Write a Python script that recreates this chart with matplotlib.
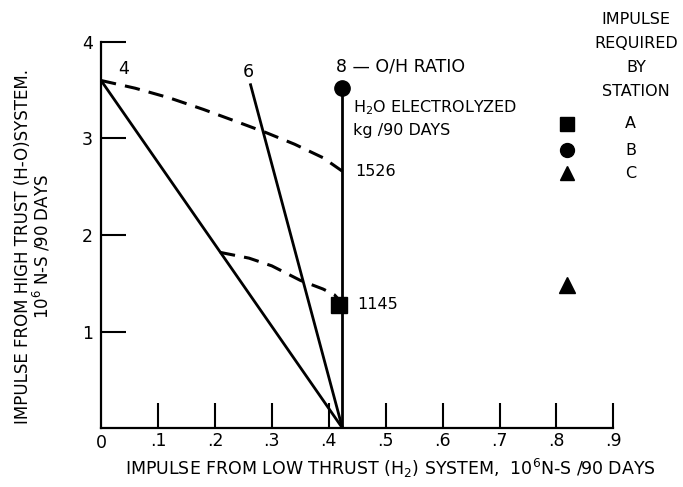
import matplotlib.pyplot as plt
import numpy as np

plt.rcParams['font.family'] = ['DejaVu Sans']
plt.rcParams['mathtext.fontset'] = 'dejavusans'

# O/H ratio lines: start point -> common end at x = 0.424
line_4 = ([0.0, 0.424], [3.6, 0.0])
line_6 = ([0.262, 0.424], [3.57, 0.0])
line_8 = ([0.424, 0.424], [0.0, 3.52])

# kg of H2O electrolyzed per 90 days (dashed curves)
curve_1526_x = [0.0, 0.06, 0.12, 0.18, 0.24, 0.29, 0.34, 0.39, 0.424]
curve_1526_y = [3.6, 3.52, 3.42, 3.30, 3.17, 3.06, 2.94, 2.80, 2.66]
curve_1145_x = [0.209, 0.26, 0.30, 0.35, 0.39, 0.41, 0.424]
curve_1145_y = [1.82, 1.76, 1.68, 1.53, 1.44, 1.38, 1.29]

# station requirements
stations = ['A', 'B', 'C']
station_x = [0.418, 0.424, 0.819]
station_y = [1.27, 3.52, 1.48]
station_marker = ['s', 'o', '^']

x_ticks = [0.1, 0.2, 0.3, 0.4, 0.5, 0.6, 0.7, 0.8, 0.9]
x_labels = ['.1', '.2', '.3', '.4', '.5', '.6', '.7', '.8', '.9']
y_ticks = [1, 2, 3, 4]

fig = plt.figure(figsize=(6.83, 4.87), dpi=100)
ax = fig.add_axes([0.148, 0.121, 0.75, 0.793])
ax.set_xlim(0, 0.9)
ax.set_ylim(0, 4)

for xs, ys in (line_4, line_6, line_8):
    ax.plot(xs, ys, color='black', lw=2.0, solid_capstyle='butt', clip_on=False)

ax.plot(curve_1526_x, curve_1526_y, color='black', lw=2.2, ls=(0, (5, 3)), clip_on=False)
ax.plot(curve_1145_x, curve_1145_y, color='black', lw=2.2, ls=(0, (5, 3)), clip_on=False)

for sx, sy, m in zip(station_x, station_y, station_marker):
    ax.plot(sx, sy, marker=m, color='black', ms=11, clip_on=False, zorder=5)

# legend at right
leg_y = [3.15, 2.88, 2.64]
for name, m, ly in zip(stations, station_marker, leg_y):
    ax.plot(0.819, ly, marker=m, color='black', ms=10, clip_on=False)
    ax.text(0.93, ly, name, ha='center', va='center', fontsize=11.5)
ax.text(0.94, 3.86, 'IMPULSE\nREQUIRED\nBY\nSTATION', ha='center', va='center',
        fontsize=11.5, linespacing=1.75)

# annotations
ax.text(0.039, 3.72, '4', fontsize=12.5, ha='center', va='center')
ax.text(0.258, 3.69, '6', fontsize=12.5, ha='center', va='center')
ax.text(0.413, 3.75, '8 — O/H RATIO', fontsize=12.5, ha='left', va='center')
ax.text(0.442, 3.32, 'H$_2$O ELECTROLYZED', fontsize=11.5, ha='left', va='center')
ax.text(0.442, 3.08, 'kg /90 DAYS', fontsize=11.5, ha='left', va='center')
ax.text(0.446, 2.66, '1526', fontsize=11.5, ha='left', va='center')
ax.text(0.450, 1.28, '1145', fontsize=11.5, ha='left', va='center')

# axes styling
ax.spines['top'].set_visible(False)
ax.spines['right'].set_visible(False)
ax.spines['left'].set_linewidth(1.6)
ax.spines['bottom'].set_linewidth(1.6)
ax.set_xticks(x_ticks)
ax.set_xticklabels(x_labels, fontsize=12.5)
ax.set_yticks(y_ticks)
ax.set_yticklabels([str(v) for v in y_ticks], fontsize=12.5)
ax.tick_params(direction='in', length=18, width=1.5)
ax.tick_params(axis='x', pad=3)
ax.tick_params(axis='y', pad=6)
ax.text(0.0, -0.06, '0', ha='center', va='top', fontsize=12.5)

ax.set_xlabel('IMPULSE FROM LOW THRUST (H$_2$) SYSTEM,  10$^6$N-S /90 DAYS', fontsize=12.5)
ax.xaxis.set_label_coords(0.565, -0.075)
ax.set_ylabel('IMPULSE FROM HIGH TRUST (H-O)SYSTEM.\n10$^6$ N-S /90 DAYS', fontsize=12,
              linespacing=0.95)
ax.yaxis.set_label_coords(-0.095, 0.47)

fig.savefig('out.png', dpi=100)
